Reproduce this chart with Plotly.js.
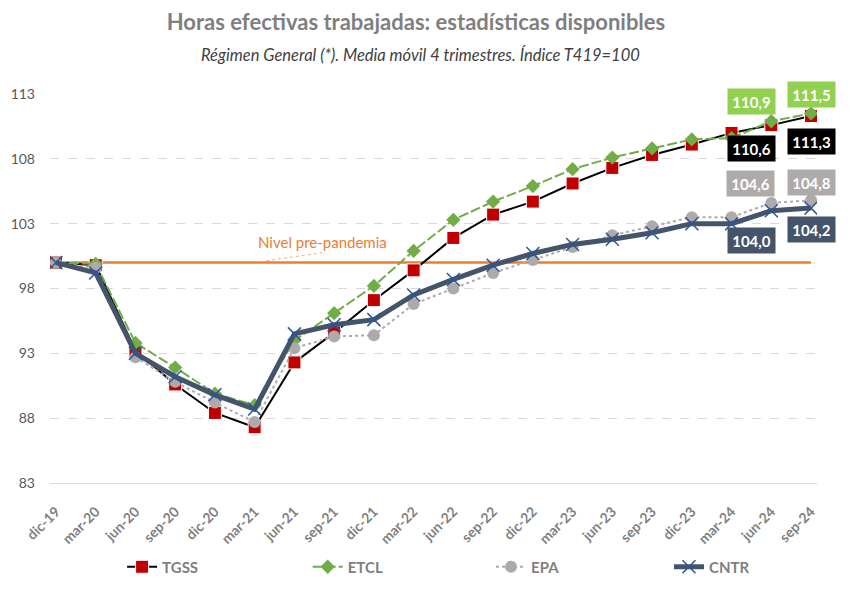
<!DOCTYPE html>
<html>
<head>
<meta charset="utf-8">
<script src="https://cdn.plot.ly/plotly-3.0.1.min.js"></script>
<style>html,body{margin:0;padding:0;background:#fff;}#chart{width:850px;height:590px;}</style>
</head>
<body>
<div id="chart"></div>
<script>
const categorias = ['dic-19','mar-20','jun-20','sep-20','dic-20','mar-21','jun-21','sep-21','dic-21','mar-22','jun-22','sep-22','dic-22','mar-23','jun-23','sep-23','dic-23','mar-24','jun-24','sep-24'];
const tgss = [100, 99.8, 93.2, 90.6, 88.4, 87.3, 92.3, 94.6, 97.1, 99.4, 101.9, 103.7, 104.7, 106.1, 107.3, 108.3, 109.1, 110.0, 110.6, 111.3];
const etcl = [100, 99.9, 93.8, 91.9, 89.9, 89.0, 94.0, 96.1, 98.2, 100.9, 103.3, 104.7, 105.9, 107.2, 108.1, 108.8, 109.5, 109.6, 110.9, 111.5];
const epa  = [100, 99.6, 92.7, 90.8, 89.2, 87.7, 93.4, 94.3, 94.4, 96.8, 98.0, 99.2, 100.2, 101.2, 102.1, 102.8, 103.5, 103.5, 104.6, 104.8];
const cntr = [100, 99.2, 93.0, 91.2, 89.8, 88.7, 94.5, 95.2, 95.6, 97.5, 98.7, 99.8, 100.7, 101.4, 101.8, 102.3, 103.0, 103.0, 104.0, 104.2];
const nivelPrePandemia = 100;
const yTicks = [83, 88, 93, 98, 103, 108, 113];

const FONT = 'Lato, "Open Sans", sans-serif';

const traces = [
  {name:'TGSS', legend:'legend', x:categorias, y:tgss, type:'scatter', mode:'lines+markers',
   line:{color:'#000000', width:2},
   marker:{symbol:'square', size:13, color:'#C00000', line:{color:'#ffffff', width:1}}},
  {name:'ETCL', legend:'legend2', x:categorias, y:etcl, type:'scatter', mode:'lines+markers',
   line:{color:'#70AD47', width:2, dash:'10px,3px'},
   marker:{symbol:'diamond', size:11, color:'#70AD47'}},
  {name:'EPA', legend:'legend3', x:categorias, y:epa, type:'scatter', mode:'lines+markers',
   line:{color:'#AEAAAA', width:2, dash:'dot'},
   marker:{symbol:'circle', size:12, color:'#AEAAAA'}},
  {name:'CNTR', legend:'legend4', x:categorias, y:cntr, type:'scatter', mode:'lines+markers',
   line:{color:'#44546A', width:5},
   marker:{symbol:'x-thin', size:13, color:'#2F5597', line:{color:'#2F5597', width:1.5}}}
];

function fmt(v){ return v.toFixed(1).replace('.', ','); }

// labels: [series, index, bg, xshift, yshift]
const etiquetas = [
  [etcl, 18, '#92D050', -20, 20],
  [etcl, 19, '#92D050', 0, 19],
  [tgss, 18, '#000000', -20, -23],
  [tgss, 19, '#000000', 0, -25],
  [epa, 18, '#AEAAAA', -21, 19],
  [epa, 19, '#AEAAAA', 0, 18],
  [cntr, 18, '#44546A', -20, -30],
  [cntr, 19, '#44546A', 0, -21]
];

const annotations = etiquetas.map(e => ({
  x: categorias[e[1]], y: e[0][e[1]], xref:'x', yref:'y',
  text: '<b>' + fmt(e[0][e[1]]) + '</b>', showarrow:false,
  xshift: e[3], yshift: e[4],
  bgcolor: e[2], width: 45, height: 23, borderpad: 1,
  font:{family:FONT, size:15, color:'#ffffff'}
}));

annotations.push({
  x: categorias[7], y: nivelPrePandemia, xref:'x', yref:'y',
  text:'Nivel pre-pandemia', showarrow:false, xshift:-12, yshift:21,
  font:{family:FONT, size:15, color:'#ED7D31'}
});
annotations.push({
  text:'<i>Régimen General (*). Media móvil 4 trimestres. Índice T419=100</i>',
  xref:'paper', yref:'paper', x:(420 - 50) / 767, y:(483 - 55) / 389, xanchor:'center', yanchor:'middle',
  showarrow:false, font:{family:FONT, size:16.5, color:'#404040'}
});

function leg(x){
  return {orientation:'h', x:x, xanchor:'left', y:-0.216, yanchor:'middle',
          font:{family:FONT, size:15, color:'#7F7F7F', weight:'bold'},
          bgcolor:'rgba(0,0,0,0)'};
}

const layout = {
  width:850, height:590,
  paper_bgcolor:'#ffffff', plot_bgcolor:'#ffffff',
  margin:{l:50, r:33, t:94, b:107, autoexpand:false},
  title:{text:'<b>Horas efectivas trabajadas: estadísticas disponibles</b>',
         x:416/850, xanchor:'center', y:1 - 22/590, yanchor:'middle', yref:'container',
         font:{family:FONT, size:22, color:'#7F7F7F'}},
  font:{family:FONT},
  xaxis:{type:'category', range:[-0.15, categorias.length - 0.85], automargin:false,
         showgrid:false, zeroline:false, showline:true, linecolor:'#D9D9D9', linewidth:1,
         ticks:'', tickangle:-45, ticklabelstandoff:14,
         tickfont:{family:FONT, size:14, color:'#808080', weight:'bold'}},
  yaxis:{range:[83, 113], tickvals:yTicks, ticktext:yTicks.map(String), automargin:false,
         showgrid:true, gridcolor:'#D9D9D9', griddash:'dash', gridwidth:1,
         zeroline:false, showline:false, ticks:'', ticklabelstandoff:14,
         tickfont:{family:FONT, size:14, color:'#595959'}},
  shapes:[
    {type:'line', xref:'x', yref:'y', x0:0, x1:categorias.length - 1,
     y0:nivelPrePandemia, y1:nivelPrePandemia, layer:'below',
     line:{color:'#ED7D31', width:2.5}},
    {type:'line', xref:'paper', yref:'paper', x0:0.274, y0:0.569, x1:0.355, y1:0.592,
     line:{color:'#F4B183', width:1, dash:'dot'}}
  ],
  annotations: annotations,
  showlegend:true,
  legend: leg(0.094),
  legend2: leg(0.336),
  legend3: leg(0.575),
  legend4: leg(0.807),
  hovermode:false
};

Plotly.newPlot('chart', traces, layout, {displayModeBar:false, staticPlot:true});
</script>
</body>
</html>
